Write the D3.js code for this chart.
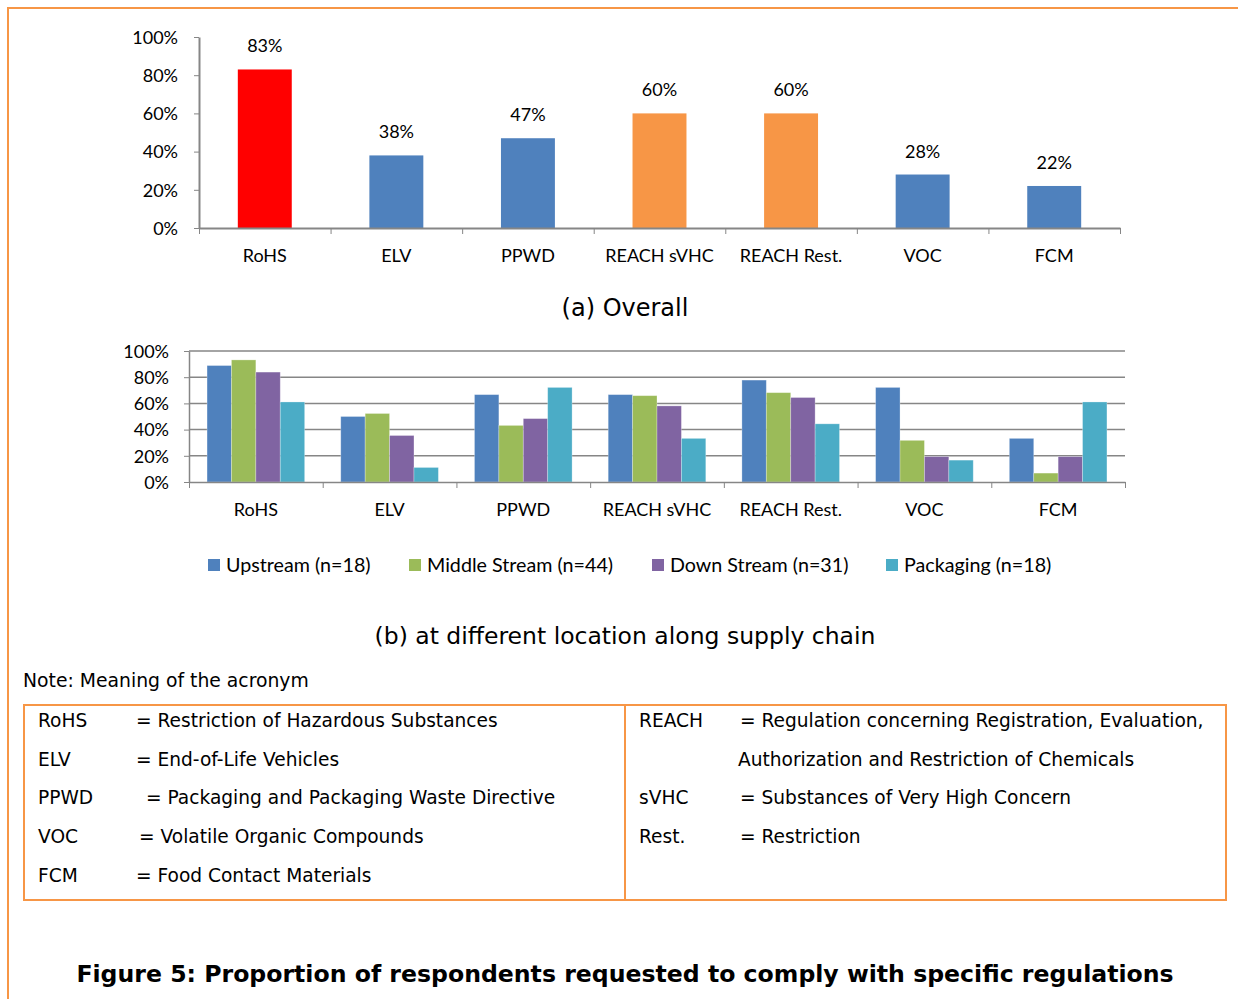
<!DOCTYPE html>
<html>
<head>
<meta charset="utf-8">
<script src="https://cdn.jsdelivr.net/npm/d3@7"></script>
<style>
  body { margin: 0; background: #fff; }
  .cal { font-family: Lato, "Liberation Sans", sans-serif; fill: #000; }
  .tah { font-family: "DejaVu Sans", Verdana, sans-serif; fill: #000; }
  .axis path, .axis line { stroke: #868686; }
</style>
</head>
<body>
<div id="chart"></div>
<script>
// data
var categories = ["RoHS", "ELV", "PPWD", "REACH sVHC", "REACH Rest.", "VOC", "FCM"];
var overall = [83, 38, 47, 60, 60, 28, 22];
var seriesNames = ["Upstream (n=18)", "Middle Stream (n=44)", "Down Stream (n=31)", "Packaging (n=18)"];
var upstream = [88.9, 50.0, 66.7, 66.7, 77.8, 72.2, 33.3];
var middleStream = [93.2, 52.3, 43.2, 65.9, 68.2, 31.8, 6.8];
var downStream = [83.9, 35.5, 48.4, 58.1, 64.5, 19.4, 19.4];
var packaging = [61.1, 11.1, 72.2, 33.3, 44.4, 16.7, 61.1];
var yTicks = [0, 20, 40, 60, 80, 100];
var notesLeft = [
  ["RoHS", "= Restriction of Hazardous Substances"],
  ["ELV", "= End-of-Life Vehicles"],
  ["PPWD", "= Packaging and Packaging Waste Directive"],
  ["VOC", "= Volatile Organic Compounds"],
  ["FCM", "= Food Contact Materials"]
];
var notesRight = [
  ["REACH", "= Regulation concerning Registration, Evaluation,"],
  ["", "Authorization and Restriction of Chemicals"],
  ["sVHC", "= Substances of Very High Concern"],
  ["Rest.", "= Restriction"]
];

var svgWidth = 1238;
var svgHeight = 999;
var orange = "#F79646";
var seriesColors = ["#4F81BD", "#9BBB59", "#8064A2", "#4BACC6"];

var svg = d3.select("#chart")
    .append("svg")
    .attr("width", svgWidth)
    .attr("height", svgHeight);

// outer page frame (top and left edges)
svg.append("path")
    .attr("d", "M8,999 V8 H1238")
    .attr("fill", "none")
    .attr("stroke", orange)
    .attr("stroke-width", 2);

// ---------- (a) Overall ----------
var topLeft = 199, topRight = 1120, topBase = 228, topTop = 37;

var xTop = d3.scaleBand()
    .domain(categories)
    .range([topLeft, topRight])
    .paddingInner(0.59)
    .paddingOuter(0.295);

var yTop = d3.scaleLinear()
    .domain([0, 100])
    .range([topBase, topTop]);

var topAxisY = svg.append("g")
    .attr("class", "axis")
    .attr("transform", `translate(${topLeft},0)`)
    .call(d3.axisLeft(yTop).tickValues(yTicks).tickSize(5).tickSizeOuter(0).tickFormat(d => d + "%"));
topAxisY.selectAll("text").attr("class", "cal").attr("font-size", 18).attr("x", -21).attr("dy", "0.35em");
topAxisY.select(".domain").attr("stroke-width", 2);

svg.selectAll(".topbar")
    .data(categories)
    .enter()
    .append("rect")
    .attr("class", "topbar")
    .attr("x", d => xTop(d))
    .attr("width", xTop.bandwidth())
    .attr("y", (d, i) => yTop(overall[i]))
    .attr("height", (d, i) => yTop(0) - yTop(overall[i]))
    .attr("fill", d => d === "RoHS" ? "#FF0000" : (d.indexOf("REACH") === 0 ? orange : "#4F81BD"));

// boundary ticks
var topIdx = d3.scaleLinear().domain([0, categories.length]).range([topLeft, topRight]);
var topAxisX = svg.append("g")
    .attr("class", "axis")
    .attr("transform", `translate(0,${topBase})`)
    .call(d3.axisBottom(topIdx).ticks(7).tickSize(6).tickSizeOuter(0).tickFormat(""));
topAxisX.select(".domain").attr("stroke-width", 2);

svg.selectAll(".toplabel")
    .data(categories)
    .enter()
    .append("text")
    .attr("class", "cal")
    .attr("font-size", 18)
    .attr("text-anchor", "middle")
    .attr("x", d => xTop(d) + xTop.bandwidth() / 2)
    .attr("y", 262)
    .text(d => d);

svg.selectAll(".topval")
    .data(categories)
    .enter()
    .append("text")
    .attr("class", "cal")
    .attr("font-size", 18)
    .attr("text-anchor", "middle")
    .attr("x", d => xTop(d) + xTop.bandwidth() / 2)
    .attr("y", (d, i) => yTop(overall[i]) - 17)
    .text((d, i) => overall[i] + "%");

svg.append("text")
    .attr("class", "tah")
    .attr("font-size", 24)
    .attr("text-anchor", "middle")
    .attr("x", 625)
    .attr("y", 316)
    .text("(a)  Overall");

// ---------- (b) by supply chain location ----------
var botLeft = 189, botRight = 1125, botBase = 482, botTop = 351;
var allSeries = [upstream, middleStream, downStream, packaging];

var x0 = d3.scaleBand()
    .domain(categories)
    .range([botLeft, botRight])
    .paddingInner(0.27)
    .paddingOuter(0.135);

var x1 = d3.scaleBand()
    .domain(d3.range(seriesNames.length))
    .range([0, x0.bandwidth()]);

var yBot = d3.scaleLinear()
    .domain([0, 100])
    .range([botBase, botTop]);

// gridlines
svg.append("g")
    .selectAll("line")
    .data(yTicks.slice(1))
    .enter()
    .append("line")
    .attr("x1", botLeft)
    .attr("x2", botRight)
    .attr("y1", d => yBot(d))
    .attr("y2", d => yBot(d))
    .attr("stroke", "#868686")
    .attr("stroke-width", 1.5);

var botAxisY = svg.append("g")
    .attr("class", "axis")
    .attr("transform", `translate(${botLeft},0)`)
    .call(d3.axisLeft(yBot).tickValues(yTicks).tickSize(5).tickSizeOuter(0).tickFormat(d => d + "%"));
botAxisY.selectAll("text").attr("class", "cal").attr("font-size", 18).attr("x", -20).attr("dy", "0.35em");
botAxisY.select(".domain").attr("stroke-width", 1.5);

var groups = svg.selectAll(".grp")
    .data(categories)
    .enter()
    .append("g")
    .attr("class", "grp")
    .attr("transform", d => `translate(${x0(d)},0)`);

groups.selectAll("rect")
    .data((d, i) => allSeries.map((s, j) => ({ s: j, v: s[i] })))
    .enter()
    .append("rect")
    .attr("x", d => x1(d.s))
    .attr("width", x1.bandwidth())
    .attr("y", d => yBot(d.v))
    .attr("height", d => yBot(0) - yBot(d.v))
    .attr("fill", d => seriesColors[d.s])
    .attr("stroke", "#fff")
    .attr("stroke-opacity", 0.35)
    .attr("stroke-width", 0.8);

var botIdx = d3.scaleLinear().domain([0, categories.length]).range([botLeft, botRight]);
var botAxisX = svg.append("g")
    .attr("class", "axis")
    .attr("transform", `translate(0,${botBase})`)
    .call(d3.axisBottom(botIdx).ticks(7).tickSize(6).tickSizeOuter(0).tickFormat(""));
botAxisX.select(".domain").attr("stroke-width", 1.5);

svg.selectAll(".botlabel")
    .data(categories)
    .enter()
    .append("text")
    .attr("class", "cal")
    .attr("font-size", 18)
    .attr("text-anchor", "middle")
    .attr("x", d => x0(d) + x0.bandwidth() / 2)
    .attr("y", 516)
    .text(d => d);

// legend
var legendX = [208, 409, 652, 886];
var legend = svg.selectAll(".legend")
    .data(seriesNames)
    .enter()
    .append("g")
    .attr("class", "legend")
    .attr("transform", (d, i) => `translate(${legendX[i]},565)`);
legend.append("rect")
    .attr("x", 0).attr("y", -6)
    .attr("width", 12).attr("height", 12)
    .attr("fill", (d, i) => seriesColors[i]);
legend.append("text")
    .attr("class", "cal")
    .attr("font-size", 19.7)
    .attr("x", 18)
    .attr("y", 7)
    .text(d => d);

svg.append("text")
    .attr("class", "tah")
    .attr("font-size", 23.5)
    .attr("text-anchor", "middle")
    .attr("x", 625)
    .attr("y", 644)
    .text("(b)  at different location along supply chain");

// ---------- note table ----------
svg.append("text")
    .attr("class", "tah")
    .attr("font-size", 18.8)
    .attr("x", 23)
    .attr("y", 687)
    .text("Note: Meaning of the acronym");

svg.append("rect")
    .attr("x", 24).attr("y", 705)
    .attr("width", 1202).attr("height", 195)
    .attr("fill", "none")
    .attr("stroke", orange)
    .attr("stroke-width", 2);
svg.append("line")
    .attr("x1", 625).attr("x2", 625)
    .attr("y1", 705).attr("y2", 900)
    .attr("stroke", orange)
    .attr("stroke-width", 2);

var rowY = [727, 766, 804, 843, 882];
var leftEq = [136, 136, 146, 139, 136];

svg.selectAll(".nl")
    .data(notesLeft)
    .enter()
    .append("text")
    .attr("class", "tah")
    .attr("font-size", 18.6)
    .attr("x", 38)
    .attr("y", (d, i) => rowY[i])
    .text(d => d[0]);
svg.selectAll(".nld")
    .data(notesLeft)
    .enter()
    .append("text")
    .attr("class", "tah")
    .attr("font-size", 18.6)
    .attr("x", (d, i) => leftEq[i])
    .attr("y", (d, i) => rowY[i])
    .text(d => d[1]);

svg.selectAll(".nr")
    .data(notesRight)
    .enter()
    .append("text")
    .attr("class", "tah")
    .attr("font-size", 18.6)
    .attr("x", 639)
    .attr("y", (d, i) => rowY[i])
    .text(d => d[0]);
svg.selectAll(".nrd")
    .data(notesRight)
    .enter()
    .append("text")
    .attr("class", "tah")
    .attr("font-size", 18.6)
    .attr("x", d => d[0] === "" ? 738 : 740)
    .attr("y", (d, i) => rowY[i])
    .text(d => d[1]);

svg.append("text")
    .attr("class", "tah")
    .attr("font-size", 23.6)
    .attr("font-weight", "bold")
    .attr("text-anchor", "middle")
    .attr("x", 625)
    .attr("y", 982)
    .text("Figure 5: Proportion of respondents requested to comply with specific regulations");
</script>
</body>
</html>
